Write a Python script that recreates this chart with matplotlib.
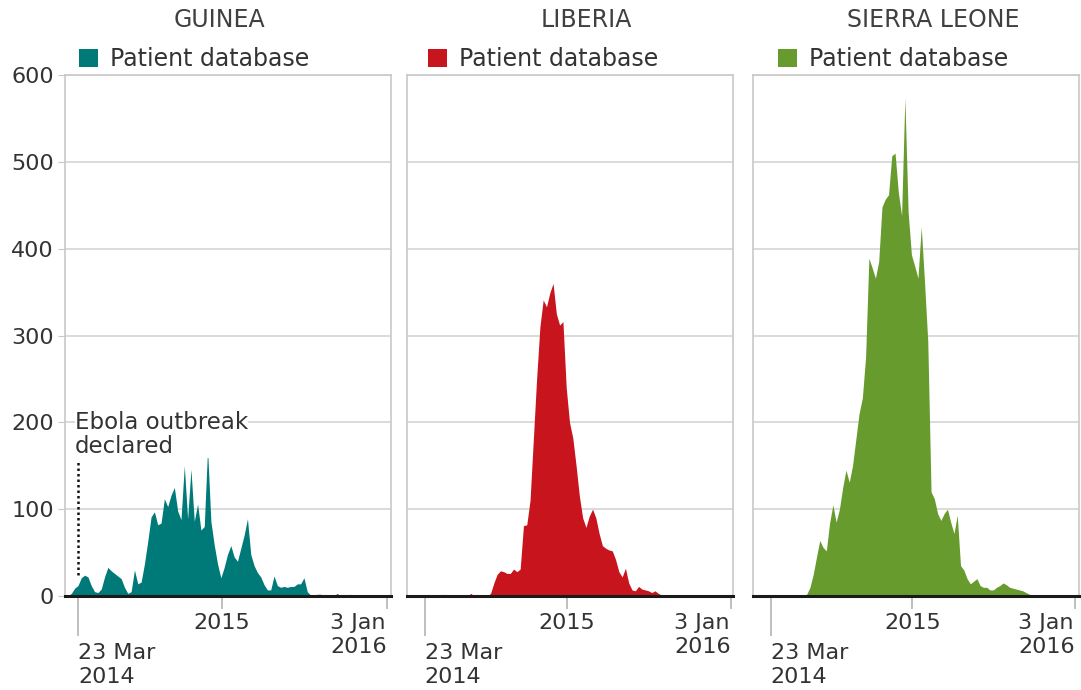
import matplotlib
matplotlib.use("Agg")
import matplotlib.pyplot as plt
from matplotlib.patches import Patch

# ------------------ Data ------------------

# week number, week 0 = week ending 23 Mar 2014, week 93 = 3 Jan 2016
weeks = list(range(-4, 95))

countries = ["GUINEA", "LIBERIA", "SIERRA LEONE"]
colors = ["#007a78", "#c8141c", "#679b2e"]
legend_label = "Patient database"

guinea = [0, 0, 3, 9, 12, 21, 24, 22, 12, 5, 4, 8, 22, 33, 29, 26, 23, 20, 10, 3,
          5, 30, 14, 16, 37, 63, 91, 97, 82, 84, 112, 103, 116, 125, 98, 88, 150, 89, 146, 86,
          106, 76, 80, 169, 86, 59, 37, 21, 33, 48, 58, 45, 40, 55, 70, 89, 48, 35, 27, 22,
          13, 7, 7, 23, 12, 10, 11, 10, 11, 11, 14, 14, 21, 5, 1, 1, 2, 2, 1, 1,
          0, 0, 3, 0, 0, 0, 2, 0, 0, 0, 0, 0, 0, 0, 0, 0, 0, 0, 0]

liberia = [0, 0, 0, 0, 0, 0, 0, 0, 0, 0, 2, 0, 0, 0, 0, 0, 0, 0, 3, 0,
           0, 0, 0, 0, 3, 15, 25, 29, 28, 26, 26, 31, 28, 31, 81, 82, 110, 180, 250, 310,
           341, 333, 349, 360, 325, 312, 316, 240, 200, 182, 150, 115, 90, 79, 92, 100, 90, 72, 58, 55,
           53, 52, 42, 28, 22, 32, 15, 7, 6, 11, 8, 7, 6, 4, 6, 3, 1, 0, 0, 0,
           0, 0, 0, 0, 0, 0, 0, 0, 0, 0, 0, 0, 0, 0, 0, 0, 0, 0, 0]

sierra_leone = [0, 0, 0, 0, 0, 0, 0, 0, 0, 0, 0, 0, 0, 0, 1, 2, 10, 25, 45, 64,
                56, 52, 84, 105, 85, 100, 125, 145, 131, 150, 180, 210, 228, 275, 389, 378, 366, 385, 448, 457,
                462, 507, 510, 465, 438, 574, 442, 393, 380, 366, 425, 362, 293, 120, 112, 95, 87, 95, 100, 85,
                72, 93, 35, 30, 20, 14, 17, 20, 12, 10, 10, 7, 7, 10, 12, 15, 13, 10, 9, 8,
                7, 6, 4, 2, 1, 0, 0, 1, 0, 0, 0, 0, 0, 0, 0, 0, 0, 0, 0]

series = [guinea, liberia, sierra_leone]

yticks = [0, 100, 200, 300, 400, 500, 600]
xtick_weeks = [43.3, 93]
xtick_labels = ["2015", "3 Jan\n2016"]
start_week = 0
start_label = "23 Mar\n2014"

# "Ebola outbreak declared" marker in the Guinea panel
note_text = "Ebola outbreak\ndeclared"
note_week = 0
note_line = [24, 154]

# ------------------ Layout ------------------

W, H = 1081, 690
panel_left = [65, 407, 753]
panel_width = 326
panel_top = 75
panel_bottom = 596
xlims = [(-3.9, 94.2), (-5.4, 93.7), (-5.4, 94.2)]
title_x = [219, 586, 933]
legend_x = [0.043, 0.064, 0.077]

TEXT = "#333333"
GRID = "#d4d4d4"
TICK = "#b4b4b4"


# Draw one country panel
def draw_panel(fig, i):
    left = panel_left[i] / W
    bottom = 1 - panel_bottom / H
    height = (panel_bottom - panel_top) / H
    ax = fig.add_axes([left, bottom, panel_width / W, height])

    ax.fill_between(weeks, series[i], 0, color=colors[i], linewidth=0, zorder=2)

    ax.set_xlim(*xlims[i])
    ax.set_ylim(0, 600)
    ax.set_yticks(yticks)
    ax.set_axisbelow(True)
    ax.grid(axis="y", color=GRID, linewidth=1.2)

    for side in ["top", "left", "right"]:
        ax.spines[side].set_color("#c8c8c8")
        ax.spines[side].set_linewidth(1.2)
    ax.spines["bottom"].set_color("#1a1a1a")
    ax.spines["bottom"].set_linewidth(2.2)
    ax.spines["bottom"].set_zorder(5)

    # y axis labels only on the first panel
    ax.tick_params(axis="y", labelleft=(i == 0), length=5 if i == 0 else 0,
                   color="#c8c8c8", pad=3, labelsize=16, labelcolor=TEXT)

    # x ticks: 2015 and 3 Jan 2016 short, 23 Mar 2014 long
    ax.set_xticks(xtick_weeks, labels=xtick_labels)
    ax.set_xticks([start_week], labels=[start_label], minor=True)
    ax.tick_params(axis="x", which="major", length=9, width=1.2, color=TICK,
                   pad=3, labelsize=16, labelcolor=TEXT)
    ax.tick_params(axis="x", which="minor", length=29, width=1.2, color=TICK,
                   pad=5, labelsize=16, labelcolor=TEXT)
    major = ax.get_xticklabels()
    major[1].set_horizontalalignment("right")
    major[1].set_multialignment("left")
    for lab in major:
        lab.set_linespacing(1.3)
    for lab in ax.get_xticklabels(minor=True):
        lab.set_horizontalalignment("left")
        lab.set_multialignment("left")
        lab.set_linespacing(1.25)

    # legend above the panel
    handle = Patch(facecolor=colors[i], edgecolor="none")
    leg = ax.legend([handle], [legend_label], loc="lower left",
                    bbox_to_anchor=(legend_x[i], 1.008), frameon=False,
                    handlelength=0.8, handleheight=0.8, handletextpad=0.5,
                    borderpad=0, borderaxespad=0, prop={"size": 17})
    for t in leg.get_texts():
        t.set_color(TEXT)

    fig.text(title_x[i] / W, 1 - 20 / H, countries[i], ha="center", va="center",
             fontsize=17, color="#404040")
    return ax


def main():
    fig = plt.figure(figsize=(W / 100, H / 100), dpi=100)

    axes = [draw_panel(fig, i) for i in range(3)]

    # annotation in Guinea panel
    ax = axes[0]
    ax.vlines(note_week, note_line[0], note_line[1], colors="#111111",
              linestyles=(0, (1, 1.2)), linewidth=1.8, zorder=3)
    ax.text(note_week - 0.9, 186, note_text, ha="left", va="center",
            fontsize=16.5, color=TEXT, linespacing=1.1, zorder=4,
            bbox=dict(facecolor="white", edgecolor="none", pad=0))

    fig.savefig("out.png", dpi=100)


if __name__ == "__main__":
    main()
